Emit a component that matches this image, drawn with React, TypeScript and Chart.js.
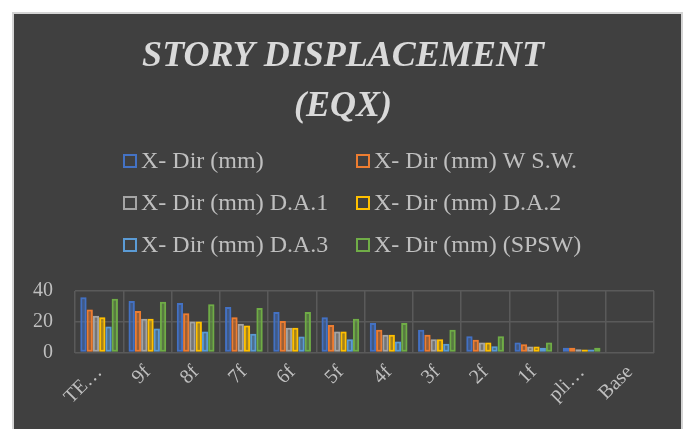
import React, { useEffect, useRef } from 'react';
import { Chart, registerables } from 'chart.js';

Chart.register(...registerables);

const categories = ['TE…', '9f', '8f', '7f', '6f', '5f', '4f', '3f', '2f', '1f', 'pli…', 'Base'];

const seriesNames = [
  'X- Dir (mm)',
  'X- Dir (mm) W S.W.',
  'X- Dir (mm) D.A.1',
  'X- Dir (mm) D.A.2',
  'X- Dir (mm) D.A.3',
  'X- Dir (mm) (SPSW)',
];

const seriesColors = ['#4472C4', '#ED7D31', '#A5A5A5', '#FFC000', '#5B9BD5', '#70AD47'];

const xDir = [36, 33.6, 32.3, 29.7, 26.4, 23, 19.2, 14.9, 10.7, 6.6, 3.1, 0];
const xDirWSW = [28, 27, 25.6, 23, 20.5, 18, 14.9, 11.6, 8.3, 5.4, 3.2, 0];
const xDirDA1 = [24, 22, 20.3, 18.8, 16.2, 13.8, 11.6, 8.7, 6.6, 3.9, 2.2, 0];
const xDirDA2 = [23, 22, 20.3, 17.7, 16.2, 13.8, 11.6, 8.7, 6.6, 3.9, 2.0, 0];
const xDirDA3 = [17, 15.7, 13.8, 12.2, 10.5, 8.7, 7.2, 5.7, 4.1, 3.1, 2.0, 0];
const xDirSPSW = [35, 33, 31.5, 29, 26.4, 22, 19.2, 14.9, 10.7, 6.6, 3.1, 0];

const seriesValues = [xDir, xDirWSW, xDirDA1, xDirDA2, xDirDA3, xDirSPSW];

const yTicks = [0, 20, 40];

const titleLines = ['STORY DISPLACEMENT', '(EQX)'];

const FONT = "'Liberation Serif', 'Times New Roman', serif";
const TEXT = '#bfbfbf';

function rgba(hex: string, a: number) {
  const n = parseInt(hex.slice(1), 16);
  return `rgba(${(n >> 16) & 255}, ${(n >> 8) & 255}, ${n & 255}, ${a})`;
}

const panelPlugin = {
  id: 'panel',
  beforeDraw(chart: any) {
    const { ctx, width, height } = chart;
    ctx.save();
    ctx.fillStyle = '#ffffff';
    ctx.fillRect(0, 0, width, height);
    ctx.fillStyle = '#404040';
    ctx.fillRect(13, 13, 669, height);
    ctx.strokeStyle = '#d4d4d4';
    ctx.lineWidth = 2;
    ctx.strokeRect(13, 13, 669, height + 10);
    ctx.restore();
  },
};

const glowPlugin = {
  id: 'glow',
  beforeDatasetDraw(chart: any, args: any) {
    const ctx = chart.ctx;
    ctx.save();
    ctx.shadowColor = rgba(seriesColors[args.index], 0.75);
    ctx.shadowBlur = 9;
  },
  afterDatasetDraw(chart: any) {
    chart.ctx.restore();
  },
};

const gridLegendPlugin = {
  id: 'gridLegend',
  afterDraw(chart: any) {
    const ctx = chart.ctx;
    const colX = [124, 357];
    const rowY = [161, 203, 245];
    ctx.save();
    ctx.font = `24px ${FONT}`;
    ctx.textBaseline = 'middle';
    ctx.textAlign = 'left';
    seriesNames.forEach((name, i) => {
      const x = colX[i % 2];
      const y = rowY[Math.floor(i / 2)];
      ctx.strokeStyle = seriesColors[i];
      ctx.lineWidth = 2;
      ctx.strokeRect(x, y - 6, 12, 12);
      ctx.fillStyle = TEXT;
      ctx.fillText(name, x + 17, y + 1);
    });
    ctx.restore();
  },
};

export default function App() {
  const ref = useRef<HTMLCanvasElement | null>(null);

  useEffect(() => {
    document.body.style.margin = '0';
    if (!ref.current) return;
    const chart = new Chart(ref.current, {
      type: 'bar',
      data: {
        labels: categories,
        datasets: seriesNames.map((name, i) => ({
          label: name,
          data: seriesValues[i],
          backgroundColor: rgba(seriesColors[i], 0.35),
          borderColor: seriesColors[i],
          borderWidth: 2,
          borderSkipped: false,
          categoryPercentage: 0.78,
          barPercentage: 1.0,
        })),
      },
      options: {
        animation: false,
        responsive: false,
        maintainAspectRatio: false,
        layout: { padding: { left: 32, right: 32, top: 0, bottom: 12 } },
        plugins: {
          legend: { display: false },
          tooltip: { enabled: false },
          title: {
            display: true,
            text: titleLines,
            color: '#d9d9d9',
            font: { family: FONT, size: 36, style: 'italic', weight: 'bold', lineHeight: 1.39 },
            padding: { top: 32, bottom: 159 },
          },
        },
        scales: {
          x: {
            grid: { color: '#5a5a5a', lineWidth: 1.5, drawTicks: false, offset: true },
            border: { display: false },
            ticks: {
              color: TEXT,
              font: { family: FONT, size: 20 },
              maxRotation: 45,
              minRotation: 45,
              autoSkip: false,
              padding: 8,
            },
          },
          y: {
            min: 0,
            max: 40,
            afterBuildTicks: (axis: any) => {
              axis.ticks = yTicks.map((v) => ({ value: v }));
            },
            afterFit: (axis: any) => {
              axis.width = 43;
            },
            grid: { color: '#5a5a5a', lineWidth: 1.5, drawTicks: false },
            border: { display: false },
            ticks: {
              color: TEXT,
              font: { family: FONT, size: 20 },
              padding: 22,
            },
          },
        },
      },
      plugins: [panelPlugin, glowPlugin, gridLegendPlugin],
    });
    return () => chart.destroy();
  }, []);

  return (
    <div style={{ width: 686, height: 429 }}>
      <canvas ref={ref} width={686} height={429} style={{ display: 'block' }} />
    </div>
  );
}
